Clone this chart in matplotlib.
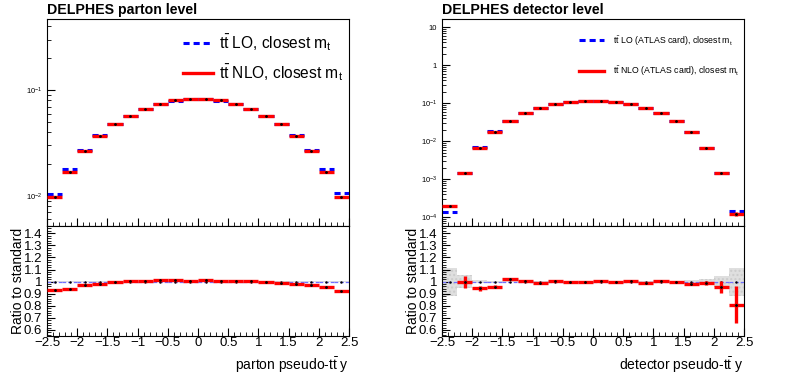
import numpy as np
import matplotlib
matplotlib.use("Agg")
import matplotlib.pyplot as plt
from matplotlib.ticker import MultipleLocator, LogLocator, NullFormatter, FuncFormatter

plt.rcParams["font.family"] = ["Liberation Sans", "DejaVu Sans"]
plt.rcParams["mathtext.fontset"] = "custom"
plt.rcParams["mathtext.rm"] = "Liberation Sans"
plt.rcParams["mathtext.it"] = "Liberation Sans:italic"

# binning (pseudo-ttbar rapidity)
bin_edges = [-2.5, -2.25, -2.0, -1.75, -1.5, -1.25, -1.0, -0.75, -0.5, -0.25, 0.0,
             0.25, 0.5, 0.75, 1.0, 1.25, 1.5, 1.75, 2.0, 2.25, 2.5]

# parton level
parton_lo = [0.01045, 0.0179, 0.0270, 0.0375, 0.0478, 0.0572, 0.0665, 0.0733, 0.0787, 0.0818,
             0.0819, 0.0792, 0.0739, 0.0667, 0.0574, 0.0479, 0.0375, 0.0272, 0.0178, 0.0106]
parton_nlo = [0.0098, 0.0170, 0.0265, 0.0367, 0.0477, 0.0575, 0.0670, 0.0743, 0.0798, 0.0822,
              0.0828, 0.0798, 0.0743, 0.0670, 0.0572, 0.0474, 0.0369, 0.0265, 0.0170, 0.0097]
parton_nlo_err = [2e-5, 3e-5, 5e-5, 7e-5, 9e-5, 1e-4, 1.2e-4, 1.3e-4, 1.4e-4, 1.4e-4,
                  1.4e-4, 1.4e-4, 1.3e-4, 1.2e-4, 1e-4, 9e-5, 7e-5, 5e-5, 3e-5, 2e-5]
parton_ratio = [0.931, 0.942, 0.972, 0.983, 0.997, 1.005, 1.008, 1.014, 1.014, 1.005,
                1.011, 1.008, 1.005, 1.005, 0.997, 0.989, 0.983, 0.972, 0.956, 0.920]
parton_ratio_err = [0.004, 0.003, 0.002, 0.002, 0.002, 0.002, 0.002, 0.002, 0.002, 0.002,
                    0.002, 0.002, 0.002, 0.002, 0.002, 0.002, 0.002, 0.002, 0.003, 0.004]
parton_band = [0.004, 0.003, 0.002, 0.002, 0.001, 0.001, 0.001, 0.001, 0.001, 0.001,
               0.001, 0.001, 0.001, 0.001, 0.001, 0.001, 0.002, 0.002, 0.003, 0.004]

# detector level
det_lo = [1.35e-4, 1.47e-3, 6.9e-3, 0.0187, 0.0343, 0.0554, 0.0760, 0.0937, 0.1063, 0.1153,
          0.1124, 0.1063, 0.0937, 0.0760, 0.0555, 0.0351, 0.0180, 0.0068, 1.47e-3, 1.5e-4]
det_nlo = [2.0e-4, 1.47e-3, 6.7e-3, 0.0176, 0.0350, 0.0557, 0.0754, 0.0940, 0.1060, 0.1150,
           0.1130, 0.1060, 0.0940, 0.0754, 0.0557, 0.0350, 0.0176, 0.0067, 1.45e-3, 1.22e-4]
det_nlo_err = [1.5e-5, 3e-5, 8e-5, 1.5e-4, 2e-4, 3e-4, 3e-4, 3e-4, 4e-4, 4e-4,
               4e-4, 4e-4, 3e-4, 3e-4, 3e-4, 2e-4, 1.5e-4, 8e-5, 6e-5, 1.5e-5]
det_ratio = [np.nan, 1.000, 0.945, 0.956, 1.022, 1.005, 0.992, 1.003, 0.997, 0.997,
             1.005, 0.997, 1.003, 0.992, 1.003, 0.997, 0.980, 0.986, 0.958, 0.810]
det_ratio_err = [0.0, 0.050, 0.020, 0.012, 0.010, 0.008, 0.006, 0.005, 0.005, 0.005,
                 0.005, 0.005, 0.005, 0.006, 0.008, 0.010, 0.012, 0.018, 0.050, 0.150]
det_band = [0.115, 0.055, 0.015, 0.008, 0.006, 0.004, 0.003, 0.003, 0.003, 0.003,
            0.003, 0.003, 0.003, 0.003, 0.004, 0.006, 0.010, 0.020, 0.045, 0.115]


def root_log_label(v, pos):
    exp = int(round(np.log10(v)))
    if exp == 0:
        return "1"
    if exp == 1:
        return "10"
    return r"$\mathregular{10^{%d}}$" % exp


def draw_main(ax, lo, nlo, nlo_err, ylim, lo_label, nlo_label, legend_size, spacing, anchor,
              hlen, hpad):
    edges = np.array(bin_edges)
    centers = 0.5 * (edges[:-1] + edges[1:])
    half = 0.5 * np.diff(edges)
    ax.hlines(lo, edges[:-1], edges[1:], colors="#0000ff", linestyles=(0, (2.0, 1.3)),
              linewidth=2.2, label=lo_label, zorder=2)
    ax.errorbar(centers, nlo, xerr=half, yerr=nlo_err, fmt="none", ecolor="#ff0000",
                elinewidth=2.4, zorder=3)
    ax.plot([], [], color="#ff0000", linewidth=2.4, label=nlo_label)
    ax.plot(centers, nlo, "k.", markersize=2, zorder=4)
    ax.set_yscale("log")
    ax.set_xlim(-2.5, 2.5)
    ax.set_ylim(*ylim)
    ax.xaxis.set_major_locator(MultipleLocator(0.5))
    ax.xaxis.set_minor_locator(MultipleLocator(0.1))
    ax.yaxis.set_major_locator(LogLocator(base=10, numticks=20))
    ax.yaxis.set_major_formatter(FuncFormatter(root_log_label))
    ax.yaxis.set_minor_locator(LogLocator(base=10, subs=np.arange(2, 10), numticks=100))
    ax.yaxis.set_minor_formatter(NullFormatter())
    ax.tick_params(axis="x", labelbottom=False)
    ax.tick_params(axis="y", labelsize=5.5)
    ax.tick_params(which="both", direction="in", top=False, right=False)
    ax.tick_params(which="major", length=6)
    ax.tick_params(which="minor", length=3)
    ax.legend(loc="upper right", frameon=False, fontsize=legend_size, handlelength=hlen,
              handletextpad=hpad, labelspacing=spacing, bbox_to_anchor=anchor,
              borderaxespad=0.0)


def draw_ratio(ax, ratio, ratio_err, band, xlabel):
    edges = np.array(bin_edges)
    centers = 0.5 * (edges[:-1] + edges[1:])
    half = 0.5 * np.diff(edges)
    band = np.array(band)
    ax.bar(centers, 2 * band, bottom=1 - band, width=np.diff(edges), color="#d8d8d8",
           edgecolor="#c8c8c8", hatch="....", linewidth=0, alpha=0.8, zorder=1)
    ax.hlines(np.ones(len(centers)), edges[:-1], edges[1:], colors="#7070ff",
              linestyles=(0, (3, 1.5)), linewidth=0.9, zorder=2)
    ax.plot(centers, np.ones(len(centers)), "k.", markersize=1.5, zorder=2)
    ax.errorbar(centers, ratio, xerr=half, yerr=ratio_err, fmt="none", ecolor="#ff0000",
                elinewidth=2.4, zorder=3)
    ax.plot(centers, ratio, "k.", markersize=2, zorder=4)
    ax.set_xlim(-2.5, 2.5)
    ax.set_ylim(0.55, 1.46)
    ax.xaxis.set_major_locator(MultipleLocator(0.5))
    ax.xaxis.set_minor_locator(MultipleLocator(0.1))
    ax.yaxis.set_minor_locator(MultipleLocator(0.02))
    ax.set_yticks([0.6, 0.7, 0.8, 0.9, 1.0, 1.1, 1.2, 1.3, 1.4])
    ax.set_yticklabels(["0.6", "0.7", "0.8", "0.9", "1", "1.1", "1.2", "1.3", "1.4"])
    ax.set_xticks([-2.5, -2, -1.5, -1, -0.5, 0, 0.5, 1, 1.5, 2, 2.5])
    ax.set_xticklabels(["\u22122.5", "\u22122", "\u22121.5", "\u22121", "\u22120.5", "0",
                        "0.5", "1", "1.5", "2", "2.5"])
    ax.tick_params(which="both", direction="in", top=False, right=False, labelsize=9.5)
    ax.tick_params(which="major", length=6)
    ax.tick_params(which="minor", length=3)
    ax.tick_params(axis="x", pad=1)
    ax.set_xlabel(xlabel, loc="right", fontsize=10, labelpad=4)
    ax.set_ylabel("Ratio to standard", fontsize=10, labelpad=-1)


fig = plt.figure(figsize=(7.89, 3.77), dpi=100)
w = 302 / 789
main_h = 207 / 377
ratio_h = 110 / 377
ratio_y = 1 - 336 / 377
main_y = 1 - 226 / 377

ax1 = fig.add_axes([47 / 789, main_y, w, main_h])
ax2 = fig.add_axes([47 / 789, ratio_y, w, ratio_h], sharex=ax1)
ax3 = fig.add_axes([442 / 789, main_y, w, main_h])
ax4 = fig.add_axes([442 / 789, ratio_y, w, ratio_h], sharex=ax3)

tt = r"$\mathregular{t\bar{t}}$"
mt = r"$\mathregular{m_t}$"

draw_main(ax1, parton_lo, parton_nlo, parton_nlo_err, (0.0052, 0.47),
          tt + " LO, closest " + mt, tt + " NLO, closest " + mt, 11.2, 0.6, (1.0, 0.965),
          1.9, 0.4)
draw_ratio(ax2, parton_ratio, parton_ratio_err, parton_band, r"parton pseudo-$\mathregular{t\bar{t}}$ y")

draw_main(ax3, det_lo, det_nlo, det_nlo_err, (5.9e-5, 16.6),
          tt + " LO (ATLAS card), closest " + mt, tt + " NLO (ATLAS card), closest " + mt, 6.3, 1.9,
          (0.995, 0.945), 2.9, 1.0)
draw_ratio(ax4, det_ratio, det_ratio_err, det_band, r"detector pseudo-$\mathregular{t\bar{t}}$ y")

fig.text(47 / 789, 1 - 10 / 377, "DELPHES parton level", fontsize=10.2, fontweight="bold",
         va="center", ha="left")
fig.text(442 / 789, 1 - 10 / 377, "DELPHES detector level", fontsize=10.2, fontweight="bold",
         va="center", ha="left")

fig.savefig("out.png", dpi=100)
